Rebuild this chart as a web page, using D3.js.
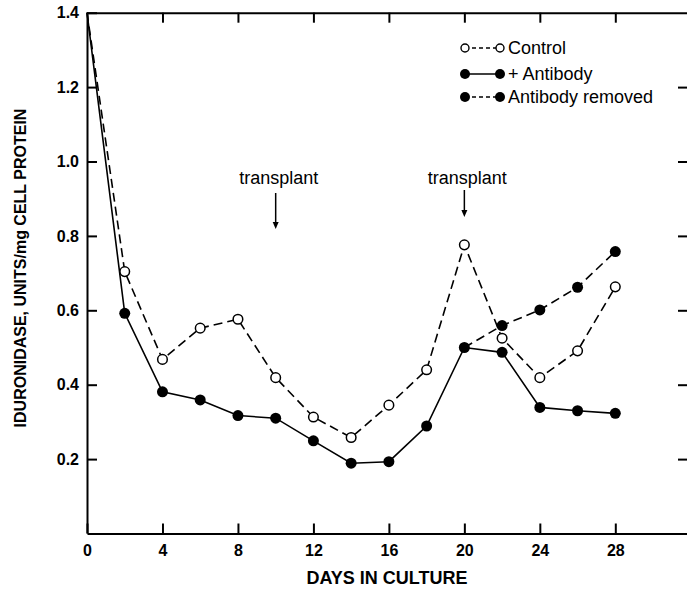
<!DOCTYPE html>
<html><head><meta charset="utf-8">
<script src="https://cdn.jsdelivr.net/npm/d3@7"></script>
<style>body{margin:0;background:#fff}svg{display:block}text{font-family:"Liberation Sans",Arial,Helvetica,sans-serif;fill:#000}</style>
</head><body>
<svg id="c" width="687" height="589"></svg>
<script>
const days = [0,2,4,6,8,10,12,14,16,18,20,22,24,26,28];
const control = [1.40,0.704,0.468,0.552,0.576,0.419,0.313,0.258,0.345,0.440,0.776,0.525,0.419,0.491,0.663];
const antibody = [1.40,0.592,0.381,0.359,0.317,0.310,0.249,0.189,0.193,0.289,0.500,0.487,0.339,0.330,0.323];
const removedDays = [20,22,24,26,28];
const removed = [0.500,0.559,0.601,0.662,0.758];
const xTicks = [0,4,8,12,16,20,24,28];
const yTicks = [0.2,0.4,0.6,0.8,1.0,1.2,1.4];
const transplantDays = [10,20];
const legendLabels = ["Control","+ Antibody","Antibody removed"];

const svg = d3.select("#c");
const x = d3.scaleLinear().domain([0,31.8]).range([87,687]);
const y = d3.scaleLinear().domain([0,1.4]).range([533.5,12.7]);

const g = svg.append("g");
const xa = g.append("g").attr("transform",`translate(0,${y(0)})`)
  .call(d3.axisBottom(x).tickValues(xTicks).tickSizeInner(-10).tickSizeOuter(0).tickPadding(11.5).tickFormat(d3.format("d")));
const ya = g.append("g").attr("transform",`translate(${x(0)},0)`)
  .call(d3.axisLeft(y).tickValues(yTicks).tickSizeInner(-10).tickSizeOuter(0).tickPadding(8).tickFormat(d3.format(".1f")));
const ta = g.append("g").attr("transform",`translate(0,${y(1.4)})`)
  .call(d3.axisTop(x).tickValues(xTicks.slice(1)).tickSizeInner(-10).tickSizeOuter(0).tickFormat(""));
const ra = g.append("g").attr("transform",`translate(${x.range()[1]},0)`)
  .call(d3.axisRight(y).tickValues(yTicks.slice(0,-1)).tickSizeInner(-9).tickSizeOuter(0).tickFormat(""));
ra.select(".domain").remove();
[xa,ya,ta,ra].forEach(a=>{
  a.selectAll("path,line").attr("stroke","#000").attr("stroke-width",2);
  a.selectAll("text").attr("font-size",16).attr("font-weight","bold").attr("fill","#000").style("font-family",'"Liberation Sans",Arial,sans-serif');
});
ya.select(".domain").attr("d",`M0.5,${y(1.4)}V${y(0)}`);

svg.append("text").attr("x",387).attr("y",584).attr("text-anchor","middle")
  .attr("font-size",18).attr("font-weight","bold").text("DAYS IN CULTURE");
svg.append("text").attr("transform",`translate(26,268) rotate(-90)`).attr("text-anchor","middle")
  .attr("font-size",16).attr("font-weight","bold").text("IDURONIDASE, UNITS/mg CELL PROTEIN");

const line = d3.line().x(d=>x(d[0])).y(d=>y(d[1]));
const dash = "9,5";
const ctrl = days.map((d,i)=>[d,control[i]]);
const ab = days.map((d,i)=>[d,antibody[i]]);
const rm = removedDays.map((d,i)=>[d,removed[i]]);

g.append("path").datum(ctrl).attr("d",line).attr("fill","none").attr("stroke","#000").attr("stroke-width",1.6).attr("stroke-dasharray",dash);
g.append("path").datum(rm).attr("d",line).attr("fill","none").attr("stroke","#000").attr("stroke-width",1.6).attr("stroke-dasharray",dash);
g.append("path").datum(ab).attr("d",line).attr("fill","none").attr("stroke","#000").attr("stroke-width",1.6);

g.selectAll(".ab").data(ab.slice(1)).join("circle").attr("cx",d=>x(d[0])).attr("cy",d=>y(d[1])).attr("r",5.5).attr("fill","#000");
g.selectAll(".rm").data(rm.slice(1)).join("circle").attr("cx",d=>x(d[0])).attr("cy",d=>y(d[1])).attr("r",5.5).attr("fill","#000");
g.selectAll(".ct").data(ctrl.slice(1)).join("circle").attr("cx",d=>x(d[0])).attr("cy",d=>y(d[1])).attr("r",4.8).attr("fill","#fff").attr("stroke","#000").attr("stroke-width",1.5);

transplantDays.forEach((d,i)=>{
  const ax = x(d);
  const top = i===0?193:190, bot = i===0?229:217;
  svg.append("text").attr("x",ax+3).attr("y",184).attr("text-anchor","middle").attr("font-size",18).text("transplant");
  svg.append("line").attr("x1",ax).attr("x2",ax).attr("y1",top).attr("y2",bot-6).attr("stroke","#000").attr("stroke-width",1.5);
  svg.append("path").attr("d",`M${ax-3},${bot-7}L${ax+3},${bot-7}L${ax},${bot}Z`).attr("fill","#000");
});

const lg = svg.append("g");
const ly = [48,74,97];
const styles = [{dash:"4,3",open:true},{dash:null,open:false},{dash:"4,3",open:false}];
legendLabels.forEach((t,i)=>{
  const s = styles[i];
  const l = lg.append("line").attr("x1",465).attr("x2",500).attr("y1",ly[i]).attr("y2",ly[i]).attr("stroke","#000").attr("stroke-width",1.6);
  if(s.dash) l.attr("stroke-dasharray",s.dash);
  [465,500].forEach(cx=>{
    lg.append("circle").attr("cx",cx).attr("cy",ly[i]).attr("r",s.open?4:5)
      .attr("fill",s.open?"#fff":"#000").attr("stroke","#000").attr("stroke-width",s.open?1.4:0);
  });
  lg.append("text").attr("x",508).attr("y",ly[i]+6).attr("font-size",18).text(t);
});
</script>
</body></html>
